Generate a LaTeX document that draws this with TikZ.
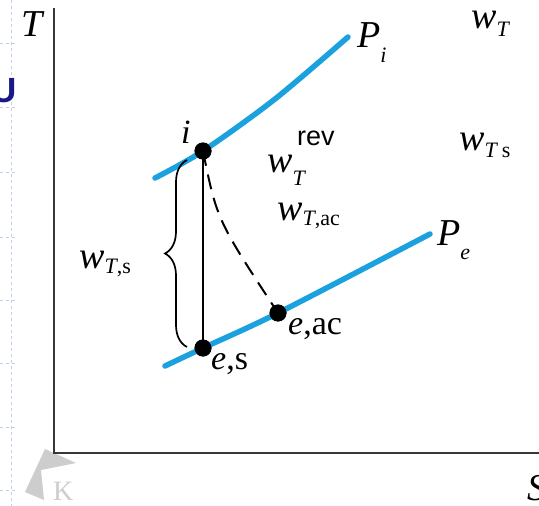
\documentclass[tikz,border=0pt]{standalone}
\usepackage{fontspec}
\setmainfont{Liberation Serif}
\setsansfont{Liberation Sans}
\usetikzlibrary{decorations.pathreplacing}
\definecolor{isobar}{RGB}{27,162,222}
\definecolor{axisgray}{RGB}{55,55,55}
\definecolor{guide}{RGB}{195,205,240}
\definecolor{logogray}{RGB}{205,205,205}
\definecolor{navy}{RGB}{25,25,135}
\newcommand{\subsz}{\fontsize{22}{24}\selectfont}
\tikzset{
  lab/.style={inner sep=0pt, anchor=base west, font=\fontsize{38}{42}\selectfont},
  smalllab/.style={inner sep=0pt, anchor=base west, font=\fontsize{34}{38}\selectfont},
  revlab/.style={inner sep=0pt, anchor=base west, font=\sffamily\fontsize{27}{30}\selectfont},
  statedot/.style={circle, fill=black, inner sep=0pt, minimum size=17pt},
  isobarline/.style={isobar, line width=5.5pt, line cap=round},
  axisline/.style={axisgray, line width=2.8pt},
  procline/.style={black, line width=1.7pt},
  guideline/.style={guide, dashed, line width=0.8pt},
}
\begin{document}
\begin{tikzpicture}[x=1pt,y=-1pt]
\useasboundingbox (0,0) rectangle (539,506);
\clip (0,0) rectangle (539,506);
% slide guides
\draw[guideline] (11,0) -- (11,506);
\foreach \yy in {43,107,172,237,300,363,427,490} \draw[guideline] (0,\yy) -- (17,\yy);
\node[inner sep=0pt, anchor=base east, font=\sffamily\bfseries\fontsize{35}{38}\selectfont, text=navy] (ulet) at (17,102) {U};
% logo
\fill[logogray] (45,449) -- (76,463) -- (41,470) -- (44,500) -- (25,492) -- cycle;
\node[inner sep=0pt, anchor=base west, font=\fontsize{28}{30}\selectfont, text=logogray] (klet) at (53,500) {K};
% axes
\coordinate (ytop) at (54,8);
\coordinate (origin) at (54,453);
\coordinate (xend) at (545,453);
\draw[axisline] (ytop) -- (origin) -- (xend);
\node[lab] (tlab) at (21,36) {\textit{T}};
\node[lab] (slab) at (527,500) {\textit{S}};
% state points
\node[statedot] (i) at (203,151) {};
\node[statedot] (es) at (203,348) {};
\node[statedot] (eac) at (278,313) {};
% isobars
\draw[isobarline] plot[smooth] coordinates {(155,178) (203,151) (275,99) (348,37)};
\draw[isobarline] plot[smooth] coordinates {(165,366) (203,348) (278,313) (430,234)};
\node[statedot] at (i) {};
\node[statedot] at (es) {};
\node[statedot] at (eac) {};
% processes
\draw[procline] (i.center) -- (es.center);
\draw[procline, line width=2pt, dash pattern=on 15pt off 9pt] (i.center) .. controls (217,220) .. (eac.center);
\draw[procline, decorate, decoration={brace, amplitude=22pt}] (187,347) -- (187,160);
% labels
\node[lab] (pi) at (357,48) {\textit{P}\raisebox{-14pt}{\subsz\textit{i}}};
\node[lab] (pe) at (437,245) {\textit{P}\raisebox{-14pt}{\subsz\textit{e}}};
\node[smalllab] (ilab) at (181,143) {\textit{i}};
\node[revlab] (rev) at (297,145) {rev};
\node[lab] (wt) at (267,172) {\textit{w}\raisebox{-13pt}{\subsz\textit{T}}};
\node[lab] (wtac) at (277,220) {\textit{w}\raisebox{-5pt}{\subsz\textit{T},ac}};
\node[lab] (wts) at (79,268) {\textit{w}\raisebox{-5pt}{\subsz\textit{T},s}};
\node[smalllab] (eaclab) at (288,334) {\textit{e},ac};
\node[smalllab] (eslab) at (211,369) {\textit{e},s};
\node[lab] (wtr) at (471,28) {\textit{w}\raisebox{-8pt}{\subsz\textit{T}}};
\node[lab] (wtsr) at (459,150) {\textit{w}\raisebox{-7pt}{\subsz\textit{T}\,s}};
\end{tikzpicture}
\end{document}
